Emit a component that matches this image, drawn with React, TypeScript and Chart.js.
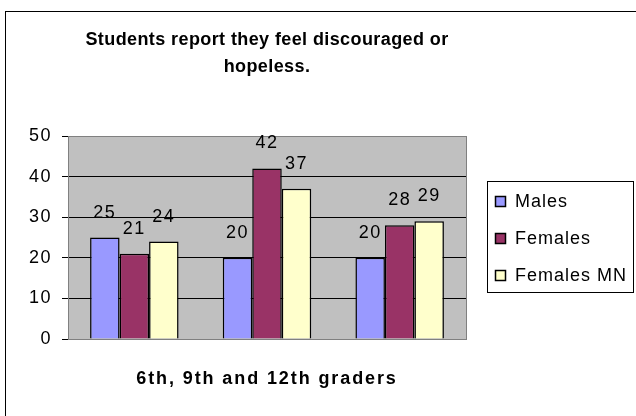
import React, { useEffect, useRef } from "react";
import { Chart, registerables } from "chart.js";

Chart.register(...registerables);

const categories = ["6th graders", "9th graders", "12th graders"];
const seriesNames = ["Males", "Females", "Females MN"];
const males = [25, 20, 20];
const females = [21, 42, 28];
const femalesMN = [24, 37, 29];
const yTicks = [0, 10, 20, 30, 40, 50];
const titleLines = ["Students report they feel discouraged or", "hopeless."];
const xTitle = "6th, 9th and 12th graders";

const colors = ["#9999FF", "#993366", "#FFFFCC"];
const FONT = "'Liberation Sans', Arial, sans-serif";

export default function App() {
  const ref = useRef<HTMLCanvasElement>(null);
  useEffect(() => {
    const canvas = ref.current!;
    const decor = {
      id: "decor",
      beforeDraw(chart: any) {
        const { ctx, chartArea: a } = chart;
        ctx.save();
        ctx.fillStyle = "#ffffff";
        ctx.fillRect(0, 0, chart.width, chart.height);
        ctx.strokeStyle = "#000";
        ctx.lineWidth = 1;
        ctx.strokeRect(5.5, 11.5, 700, 500);
        ctx.fillStyle = "#C0C0C0";
        ctx.fillRect(a.left, a.top, a.right - a.left, a.bottom - a.top);
        ctx.restore();
        (ctx as any).letterSpacing = "1.5px";
      },
      afterDraw(chart: any) {
        const { ctx, chartArea: a } = chart;
        ctx.save();
        // plot right border
        ctx.strokeStyle = "#808080";
        ctx.lineWidth = 1;
        ctx.beginPath();
        ctx.moveTo(Math.round(a.right) + 0.5, a.top);
        ctx.lineTo(Math.round(a.right) + 0.5, a.bottom);
        ctx.stroke();
        // data labels
        ctx.fillStyle = "#000";
        ctx.font = `18px ${FONT}`;
        (ctx as any).letterSpacing = "1.5px";
        ctx.textAlign = "center";
        ctx.textBaseline = "alphabetic";
        chart.data.datasets.forEach((ds: any, i: number) => {
          const meta = chart.getDatasetMeta(i);
          meta.data.forEach((bar: any, j: number) => {
            ctx.fillText(String(ds.data[j]), bar.x, bar.y - 20);
          });
        });
        // title
        ctx.font = `bold 18px ${FONT}`;
        (ctx as any).letterSpacing = "0.4px";
        const cx = (a.left + a.right) / 2;
        ctx.fillText(titleLines[0], cx, 45);
        ctx.fillText(titleLines[1], cx, 72);
        // x title
        (ctx as any).letterSpacing = "1.9px";
        ctx.fillText(xTitle, cx, 384);
        // legend
        const lx = 487.5, ly = 181.5, lw = 146, lh = 111;
        ctx.fillStyle = "#fff";
        ctx.fillRect(lx, ly, lw, lh);
        ctx.strokeStyle = "#000";
        ctx.lineWidth = 1;
        ctx.strokeRect(lx, ly, lw, lh);
        ctx.font = `18px ${FONT}`;
        (ctx as any).letterSpacing = "1px";
        ctx.textAlign = "left";
        chart.data.datasets.forEach((ds: any, i: number) => {
          const by = 207 + i * 37;
          ctx.fillStyle = ds.backgroundColor;
          ctx.fillRect(495.5, by - 10.5, 10, 10);
          ctx.strokeStyle = "#000";
          ctx.lineWidth = 1.5;
          ctx.strokeRect(495.5, by - 10.5, 10, 10);
          ctx.fillStyle = "#000";
          ctx.fillText(ds.label, 515, by);
        });
        ctx.restore();
      },
    };
    const chart = new Chart(canvas, {
      type: "bar",
      data: {
        labels: categories,
        datasets: [males, females, femalesMN].map((d, i) => ({
          label: seriesNames[i],
          data: d,
          backgroundColor: colors[i],
          borderColor: "#000",
          borderWidth: 1.5,
          categoryPercentage: 0.667,
          barPercentage: 1,
        })),
      },
      options: {
        animation: false,
        responsive: false,
        maintainAspectRatio: false,
        layout: { padding: { top: 136, right: 170, bottom: 77, left: 0 } },
        plugins: { legend: { display: false }, title: { display: false }, tooltip: { enabled: false } },
        scales: {
          x: {
            ticks: { display: false },
            grid: { display: false },
            border: { display: true, color: "#808080", width: 1 },
            afterFit: (s: any) => { s.height = 0; },
          },
          y: {
            min: 0,
            max: 50,
            afterBuildTicks: (s: any) => { s.ticks = yTicks.map((v) => ({ value: v })); },
            ticks: { color: "#000", font: { family: FONT, size: 18 }, padding: 10 },
            grid: {
              color: (c: any) => (c.tick && (c.tick.value === 0 || c.tick.value === 50) ? "#808080" : "#000"),
              tickColor: "#000",
              tickLength: 6,
              lineWidth: 1,
            },
            border: { display: true, color: "#808080", width: 1 },
            afterFit: (s: any) => { s.width = 68; },
          },
        },
      },
      plugins: [decor],
    });
    return () => chart.destroy();
  }, []);
  return (
    <div style={{ position: "fixed", left: 0, top: 0, width: 636, height: 416, background: "#fff" }}>
      <canvas ref={ref} width={636} height={416} style={{ display: "block" }} />
    </div>
  );
}
